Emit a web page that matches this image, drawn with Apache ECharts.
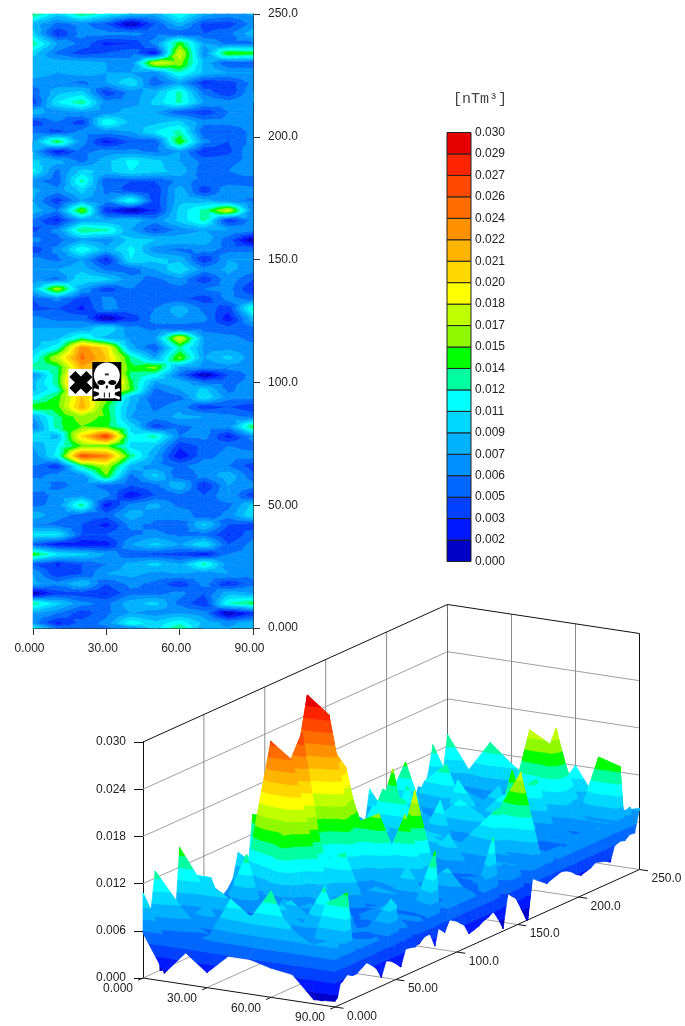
<!DOCTYPE html>
<html><head><meta charset="utf-8">
<style>html,body{margin:0;padding:0;background:#fff}#c{width:685px;height:1026px}</style>
<script src="https://cdn.jsdelivr.net/npm/echarts@6/dist/echarts.min.js"></script>
</head><body><div id="c"></div>
<script>
// Values are in units of 0.001 nTm^3 unless stated.
const xValues = [0,10,20,30,40,50,60,70,80,90];
const yValues = [250,246,242,238,234,230,226,222,218,214,210,206,202,198,194,190,186,182,178,174,170,166,162,158,154,150,146,142,138,134,130,126,122,118,114,110,106,103,100,97,94,90,86,82,78,74,70,66,62,58,54,50,46,42,38,34,30,26,22,18,14,10,6,2,0];
const zRows = [
[13.5,9.4,13.3,11,9,8,12,8,7,7.8],
[8.5,5.5,6.5,4.5,-0.3,4.5,8.5,4,3.5,6.5],
[9.5,2.8,6.5,6.5,6.5,5.5,4.5,4.5,5.5,8.5],
[13,7.5,5.5,2.5,3,6.5,14.5,7.5,5.5,5.5],
[9.5,5.5,3.5,4.5,5.5,1.8,17.8,6.5,15,14.2],
[7.5,8.5,8.5,7.5,6.5,17.5,16,8.5,4.5,4.5],
[8.5,7.5,8,7.5,7.5,6.5,12,8.5,7.5,7.5],
[6.5,6.5,5.5,7.5,10.5,4.5,7.5,2.8,3.5,6.5],
[5,8.5,9.5,3.2,6.5,8.5,12.5,5.5,3,7.5],
[3.5,10.5,13,6.5,6.5,9.5,12.5,7.5,6.5,7.5],
[8.5,6.5,7.5,6.5,8.5,7.5,4.5,3.2,6,6.5],
[3.5,6,3.5,12,8.5,8.5,9.5,6.5,6.5,6.5],
[5.5,4,6.5,6.5,7.5,10.5,12.5,4.5,4.5,6.5],
[7.5,14,6.5,2,4.5,4.5,15,6.5,4.5,6.5],
[7.5,2,5.5,6.5,6.5,5.5,7.5,2.8,4,7.5],
[9.5,8,5.5,8.5,11,9.5,7.5,5.5,5.5,6.5],
[11,5.5,9.5,8.5,10.5,9.5,8.5,5,6,7.5],
[6.5,5,12.5,4.5,4.5,4.5,6.5,5.5,5,4.5],
[8,6.5,9.5,5.5,4,3.2,8.5,3.2,7.5,7],
[7.5,3.2,7.5,6.5,12,3.5,8.5,8,6.5,5.5],
[8.5,6,15.5,2.8,-0.3,2.8,9.5,12.5,17.5,6.5],
[5.5,2.5,7.5,7.5,8.5,6.5,9.5,12.5,3,6.5],
[4,6.5,13.5,12.5,7.5,4,6.5,7.5,7.5,6.5],
[6.5,5,7.5,6.5,9.5,9,8.5,8.5,5,-0.2],
[3.2,6.5,12,8,11,6.5,5.5,6.5,5.5,5.5],
[6.5,5.5,7.5,2.5,10.5,9.5,8.5,2.8,7.5,7.5],
[7.5,7.5,8.5,5.5,5,7.5,10.5,6.5,8,6.5],
[6.5,5.5,10.5,9.5,6.5,5.5,7,3.2,7,4.5],
[8.5,16.5,7.5,3.5,6,5,5.5,6,6.5,2.8],
[4.5,6.5,3.5,6.5,5,5,5,3.5,6.5,5.5],
[4,4.5,2.5,6.5,5.5,6,8.5,5.5,3.5,12.5],
[6.5,5.5,5.5,-0.3,3.2,6.5,7.5,6.5,1.8,8.5],
[7.5,7.5,7.5,10.5,6.5,5.5,4.5,5,5,5.5],
[8.5,8.5,12.5,8.5,7,7.5,18,7.5,6.5,5.5],
[8.5,11.5,23.5,20,8,4.5,12.5,7,7,6.5],
[10.5,17,24.5,21,13,7.5,15.5,7.5,9.5,6.5],
[13,13,22,20,14,15.5,7.5,6.5,6.5,6.5],
[6.5,13,26,23,13,11.5,5.5,-0.3,4.5,6.5],
[8.5,13,29.8,27.7,14,7.5,8.5,5.5,5.5,6.5],
[8.5,11.5,25,21,14.5,5.5,7.5,9.5,5.5,7.5],
[10.5,14,21,16,9,4.5,5.5,10.5,6.5,6.5],
[14.5,14.5,22,14,8,5.5,7,3.2,4.5,3.2],
[7.5,13,16,14.5,7.5,6.5,8,7.5,6.5,5.5],
[5.5,13,15,14,10,3.5,5.5,6.5,6.5,14],
[10.5,8.5,20,27,11,12.5,6,6.5,2.3,6.5],
[7.5,10.5,15,15,10,9,3.2,5,6,5.5],
[6.5,11,26,24,13,7.5,1.5,5.5,6.5,6.5],
[6,3.2,13,17,8.5,6.5,5.5,7,6,3.5],
[5.5,6.5,6.5,15,5.5,9.5,4.5,6.5,8.5,5],
[7.5,5.5,6.5,5.5,4.5,5.5,9,2.8,7.5,6.5],
[5,6.5,7,6.5,1.5,4.5,5.5,4.5,7.5,3.2],
[5.5,6.5,13,2,6.5,8,5.5,5.5,5.5,9.5],
[8.5,6.5,5.5,5,8.5,6.5,7.5,4.5,6.5,10.5],
[6,5.5,4.5,2.3,6.5,5.5,4.5,9.5,4.5,3.5],
[10.5,10.5,4.5,4.5,5.5,6.5,5.5,5.5,2.8,5.5],
[4.5,2,1.5,2,7.5,9.5,7.5,10.5,4.5,6.5],
[14.5,10.5,9.5,7.5,4.5,4,3.5,2,6,6.5],
[4.5,2.8,4.5,6,8,9.5,7.5,12.5,6.5,6.5],
[7.5,3.2,4.5,7.5,8,7,7.5,6.5,7.5,6.5],
[8,6.5,9,4.5,6.5,5.5,3.2,6.5,2.8,5.5],
[-0.3,3.5,3.5,2.8,5.5,5.5,6.5,4.5,8.5,7.5],
[12.9,9.5,6.5,5.5,8.5,9.5,5.5,3.2,12,13.8],
[7.5,6,3.5,5.5,7.5,6.5,7.5,6.5,-0.3,2.8],
[6.5,2.5,5,6.5,11.5,9.5,11.5,8.5,7,8.5],
[10.8,5.5,5.5,5.5,6.5,9.5,13.5,7.5,7.5,8.5]
];
// lower edge of the 3D surface along the front (y = 0) and the right side (x = 90)
const frontLowerEdge = [5.7,1,4,1.9,4.4,4.4,3.7,3.3,0.5,0.7];
const sideLowerEdge = [7.7,4.9,5,4.5,4.7,4.7,2.6,3,3.2,3.4,3,2.8,2.6,3,3.6,4,4.2,4,3.8,3.5,4,4.5,5,0.2,1.8,3.1,3.8,4.5,0.3,1.8,3,2.6,2.4,2,1.8,1.6,3,3.4,3.9,4.2,4.5,4.6,4.8,2,3.8,3.8,3.4,3,3.2,3.3,1.3,2,2.6,2.9,1.1,2.5,3.2,3.8,3.4,3,3,3.4,3.8,1,0.7];
// colour scale, bottom to top
const bandColors = ['#0000c8','#0018ff','#0040ff','#0068ff','#0090ff','#00b2ff','#00d8ff','#00ffff','#00ffa0','#00ff00','#90f800','#c0ff00','#ffff00','#ffd800','#ffb400','#ff9000','#ff6c00','#ff4800','#ff2400','#e60000'];
const bandLabels = ['0.000','0.002','0.003','0.005','0.006','0.007','0.009','0.011','0.012','0.014','0.015','0.017','0.018','0.020','0.021','0.022','0.024','0.026','0.027','0.029','0.030'];
const bandStep = 1.5;
const unitTitle = '[nTm³]';
const xTickLabels = {0:'0.000',30:'30.00',60:'60.00',90:'90.00'};
const yTickLabels = {0:'0.000',50:'50.00',100:'100.0',150:'150.0',200:'200.0',250:'250.0'};
const markerPoints = [[20,100],[30,100]];

const FONT = 'Liberation Sans', INK = '#222';

// ---------- geometry helpers ----------
function clipZ(poly, limit, keepAbove) {
  const out = [];
  for (let i = 0; i < poly.length; i++) {
    const a = poly[i], b = poly[(i + 1) % poly.length];
    const ia = keepAbove ? a[2] >= limit : a[2] <= limit;
    const ib = keepAbove ? b[2] >= limit : b[2] <= limit;
    if (ia) out.push(a);
    if (ia !== ib) {
      const t = (limit - a[2]) / (b[2] - a[2]);
      out.push([a[0] + t * (b[0] - a[0]), a[1] + t * (b[1] - a[1]), limit]);
    }
  }
  return out;
}
function bandPolys(tri) {
  const res = [];
  const lo = Math.min(tri[0][2], tri[1][2], tri[2][2]), hi = Math.max(tri[0][2], tri[1][2], tri[2][2]);
  bandColors.forEach((color, k) => {
    const b0 = k * bandStep, b1 = (k + 1) * bandStep;
    if ((hi < b0) || (lo > b1 && k < bandColors.length - 1)) return;
    let p = clipZ(tri, b0, true);
    if (p.length >= 3 && k < bandColors.length - 1) p = clipZ(p, b1, false);
    if (p.length >= 3) res.push({ poly: p, color });
  });
  return res;
}
function cellTriangles(c, r) {
  const x0 = xValues[c], x1 = xValues[c + 1], yA = yValues[r], yB = yValues[r + 1];
  const zA0 = zRows[r][c], zA1 = zRows[r][c + 1], zB0 = zRows[r + 1][c], zB1 = zRows[r + 1][c + 1];
  const m = [(x0 + x1) / 2, (yA + yB) / 2, (zA0 + zA1 + zB0 + zB1) / 4];
  const a = [x0, yA, zA0], b = [x1, yA, zA1], d = [x0, yB, zB0], e = [x1, yB, zB1];
  return [[a, b, m], [a, d, m], [b, e, m], [d, e, m]]; // far to near
}
function polyEl(points, color) {
  return { type: 'polygon', shape: { points }, style: { fill: color, stroke: color, lineWidth: 0.6 }, silent: true };
}

// ---------- oblique projection onto the z axis grid ----------
const SKEW_U_Y = (304.5 / 250) * (90 / 192);
const SKEW_V_X = (29 / 90) / 236 * 30;
const SKEW_V_Y = (137.5 / 250) / 236 * 30;
function proj(api, x, y, zMilli) {
  return api.coord([x + y * SKEW_U_Y, (zMilli - x * SKEW_V_X + y * SKEW_V_Y) / 1000]);
}

// ---------- data for custom series ----------
const cells = [];
for (let r = 0; r < yValues.length - 1; r++) for (let c = 0; c < xValues.length - 1; c++) cells.push({ c, r });

const surfaceItems = [];
for (let r = 0; r < yValues.length - 1; r++) {
  for (let c = 0; c < xValues.length - 1; c++) surfaceItems.push({ tris: cellTriangles(c, r) });
  const last = xValues.length - 1, X = xValues[last];
  const a = [X, yValues[r], zRows[r][last]], b = [X, yValues[r + 1], zRows[r + 1][last]];
  const a0 = [X, yValues[r], sideLowerEdge[r]], b0 = [X, yValues[r + 1], sideLowerEdge[r + 1]];
  surfaceItems.push({ tris: [[a, b, a0], [b, a0, b0]] });
}
const front = zRows.length - 1;
for (let c = 0; c < xValues.length - 1; c++) {
  const a = [xValues[c], 0, zRows[front][c]], b = [xValues[c + 1], 0, zRows[front][c + 1]];
  const a0 = [xValues[c], 0, frontLowerEdge[c]], b0 = [xValues[c + 1], 0, frontLowerEdge[c + 1]];
  surfaceItems.push({ tris: [[a, b, a0], [b, a0, b0]] });
}

// box lines: [x0,y0,z0,x1,y1,z1,colour]
const G = '#a0a0a0', V = '#8c8c8c', K = '#111';
const boxLines = [];
[6, 12, 18, 24].forEach(z => { boxLines.push([0,0,z,0,250,z,G], [0,250,z,90,250,z,G]); });
[50,100,150,200].forEach(y => { boxLines.push([0,y,0,0,y,30,V], [0,y,0,90,y,0,G]); });
[30,60].forEach(x => { boxLines.push([x,250,0,x,250,30,V], [x,0,0,x,250,0,G]); });
boxLines.push([0,0,0,0,250,0,G],[0,250,0,90,250,0,G],[0,250,0,0,250,30,'#666']);
boxLines.push([0,0,30,0,250,30,K],[0,250,30,90,250,30,K],[90,250,0,90,250,30,K],[0,0,0,90,0,0,K],[90,0,0,90,250,0,K]);
[0,30,60,90].forEach(x => boxLines.push([x,0,0,x,-4,0,K]));
[0,50,100,150,200,250].forEach(y => boxLines.push([90,y,0,94,y,0,K]));

const boxLabels = [];
Object.keys(xTickLabels).forEach(x => boxLabels.push([+x, 0, xTickLabels[x], -25, 11]));
Object.keys(yTickLabels).forEach(y => boxLabels.push([90, +y, yTickLabels[y], 27, 9.5]));

const markerIcon = [
  function (p) { // cross
    const cx = p[0] - 1, cy = p[1];
    return [
      { type: 'rect', shape: { x: cx - 12.5, y: cy - 13.5, width: 25, height: 27 }, style: { fill: '#fff' } },
      { type: 'line', shape: { x1: cx - 8.5, y1: cy - 8.5, x2: cx + 8.5, y2: cy + 8.5 }, style: { stroke: '#000', lineWidth: 8.5 } },
      { type: 'line', shape: { x1: cx - 8.5, y1: cy + 8.5, x2: cx + 8.5, y2: cy - 8.5 }, style: { stroke: '#000', lineWidth: 8.5 } }
    ];
  },
  function (p) { // skull
    const cx = p[0] + 0.5, cy = p[1] - 1;
    const W = { fill: '#fff' }, B = { fill: '#000' };
    return [
      { type: 'rect', shape: { x: cx - 14.5, y: cy - 19.5, width: 29, height: 39 }, style: B },
      { type: 'ellipse', shape: { cx, cy: cy - 6, rx: 13, ry: 13 }, style: W },
      { type: 'rect', shape: { x: cx - 8, y: cy + 4, width: 16, height: 12 }, style: W },
      { type: 'line', shape: { x1: cx - 13, y1: cy + 8, x2: cx + 13, y2: cy + 17 }, style: { stroke: '#fff', lineWidth: 3 } },
      { type: 'line', shape: { x1: cx + 13, y1: cy + 8, x2: cx - 13, y2: cy + 17 }, style: { stroke: '#fff', lineWidth: 3 } },
      { type: 'rect', shape: { x: cx - 7, y: cy + 6, width: 14, height: 11 }, style: W },
      { type: 'ellipse', shape: { cx: cx - 5.5, cy: cy + 1, rx: 4, ry: 2.5 }, style: B },
      { type: 'ellipse', shape: { cx: cx + 5.5, cy: cy + 1, rx: 4, ry: 2.5 }, style: B },
      { type: 'rect', shape: { x: cx - 1, y: cy + 4, width: 2, height: 3 }, style: B },
      { type: 'rect', shape: { x: cx - 2, y: cy - 8, width: 4, height: 2 }, style: { fill: '#333' } },
      { type: 'rect', shape: { x: cx - 3, y: cy + 11, width: 1, height: 5 }, style: B },
      { type: 'rect', shape: { x: cx + 2, y: cy + 11, width: 1, height: 5 }, style: B }
    ];
  }
];

const lbl = { fontFamily: FONT, fontSize: 12, color: INK };
const axisDark = { lineStyle: { color: '#333', width: 1 } };

const option = {
  animation: false,
  backgroundColor: '#fff',
  title: { text: unitTitle, left: 448, top: 87, textStyle: { fontFamily: 'Liberation Mono', fontSize: 15, fontWeight: 'normal', color: '#444' } },
  grid: [
    { left: 33, top: 14, width: 220, height: 614 },
    { left: 143, top: 742, width: 192, height: 236 },
    { left: 447, top: 132.5, width: 24, height: 429 }
  ],
  xAxis: [
    { gridIndex: 0, type: 'value', min: 0, max: 90, interval: 30, position: 'bottom', splitLine: { show: false },
      axisLine: { onZero: false, ...axisDark }, axisTick: { length: 7, ...axisDark },
      axisLabel: { ...lbl, margin: 15, padding: [0, 7, 0, 0], showMinLabel: true, showMaxLabel: true, hideOverlap: false, formatter: v => xTickLabels[v] } },
    { gridIndex: 0, type: 'value', min: 0, max: 90, position: 'top', splitLine: { show: false }, axisLine: { onZero: false, ...axisDark }, axisTick: { show: false }, axisLabel: { show: false } },
    { gridIndex: 1, type: 'value', min: 0, max: 90, show: false, splitLine: { show: false } },
    { gridIndex: 2, type: 'value', min: 0, max: 1, show: false, splitLine: { show: false } }
  ],
  yAxis: [
    { gridIndex: 0, type: 'value', min: 0, max: 250, interval: 50, position: 'right', splitLine: { show: false },
      axisLine: { onZero: false, ...axisDark }, axisTick: { length: 7, ...axisDark },
      axisLabel: { ...lbl, margin: 15, padding: [2, 0, 0, 0], showMinLabel: true, showMaxLabel: true, hideOverlap: false, formatter: v => yTickLabels[v] } },
    { gridIndex: 0, type: 'value', min: 0, max: 250, position: 'left', splitLine: { show: false }, axisLine: { onZero: false, ...axisDark }, axisTick: { show: false }, axisLabel: { show: false } },
    { gridIndex: 1, type: 'value', min: 0, max: 0.03, interval: 0.006, position: 'left', splitLine: { show: false },
      axisLine: { onZero: false, lineStyle: { color: '#111', width: 1 } }, axisTick: { length: 9, lineStyle: { color: '#111' } },
      axisLabel: { ...lbl, margin: 17, padding: [2, 0, 0, 0], showMinLabel: true, showMaxLabel: true, hideOverlap: false, formatter: v => v.toFixed(3) } },
    { gridIndex: 2, type: 'value', min: 0, max: 20, interval: 1, position: 'right', splitLine: { show: false },
      axisLine: { show: false }, axisTick: { show: false },
      axisLabel: { ...lbl, margin: 4, padding: [2, 0, 0, 0], showMinLabel: true, showMaxLabel: true, hideOverlap: false, formatter: v => bandLabels[v] } }
  ],
  series: [
    { // contour map
      type: 'custom', xAxisIndex: 0, yAxisIndex: 0, progressive: 0, silent: true, z: 1,
      data: cells.map(o => [xValues[o.c], yValues[o.r], zRows[o.r][o.c]]),
      renderItem(params, api) {
        const o = cells[params.dataIndex], children = [];
        cellTriangles(o.c, o.r).forEach(t => bandPolys(t).forEach(b =>
          children.push(polyEl(b.poly.map(q => api.coord([q[0], q[1]])), b.color))));
        return { type: 'group', children };
      }
    },
    { // hazard markers
      type: 'custom', xAxisIndex: 0, yAxisIndex: 0, silent: true, z: 5, data: markerPoints,
      renderItem(params, api) {
        const p = api.coord([api.value(0), api.value(1)]);
        return { type: 'group', children: markerIcon[params.dataIndex](p) };
      }
    },
    { // 3D box lines
      type: 'custom', xAxisIndex: 2, yAxisIndex: 2, silent: true, clip: false, z: 1, data: boxLines.map((l, i) => [i]),
      renderItem(params, api) {
        const l = boxLines[params.dataIndex];
        const a = proj(api, l[0], l[1], l[2]), b = proj(api, l[3], l[4], l[5]);
        return { type: 'line', shape: { x1: a[0], y1: a[1], x2: b[0], y2: b[1] }, style: { stroke: l[6], lineWidth: 1 } };
      }
    },
    { // 3D surface
      type: 'custom', xAxisIndex: 2, yAxisIndex: 2, silent: true, clip: false, progressive: 0, z: 2, data: surfaceItems.map((l, i) => [i]),
      renderItem(params, api) {
        const children = [];
        surfaceItems[params.dataIndex].tris.forEach(t => bandPolys(t).forEach(b =>
          children.push(polyEl(b.poly.map(q => proj(api, q[0], q[1], q[2])), b.color))));
        return { type: 'group', children };
      }
    },
    { // 3D box tick labels
      type: 'custom', xAxisIndex: 2, yAxisIndex: 2, silent: true, clip: false, z: 3, data: boxLabels.map((l, i) => [i]),
      renderItem(params, api) {
        const l = boxLabels[params.dataIndex], p = proj(api, l[0], l[1], 0);
        return { type: 'text', x: p[0] + l[3], y: p[1] + l[4], style: { text: l[2], fontFamily: FONT, fontSize: 12, fill: INK, align: 'center', verticalAlign: 'middle' } };
      }
    },
    { // colour legend
      type: 'custom', xAxisIndex: 3, yAxisIndex: 3, silent: true, z: 2, data: bandColors.map((c, i) => [i]),
      renderItem(params, api) {
        const i = api.value(0), a = api.coord([0, i + 1]), b = api.coord([1, i]);
        return { type: 'rect', shape: { x: a[0], y: a[1], width: b[0] - a[0], height: b[1] - a[1] }, style: { fill: bandColors[i], stroke: '#222', lineWidth: 1 } };
      }
    }
  ]
};
const chart = echarts.init(document.getElementById('c'), null, { renderer: 'canvas', width: 685, height: 1026 });
chart.setOption(option);
</script></body></html>
